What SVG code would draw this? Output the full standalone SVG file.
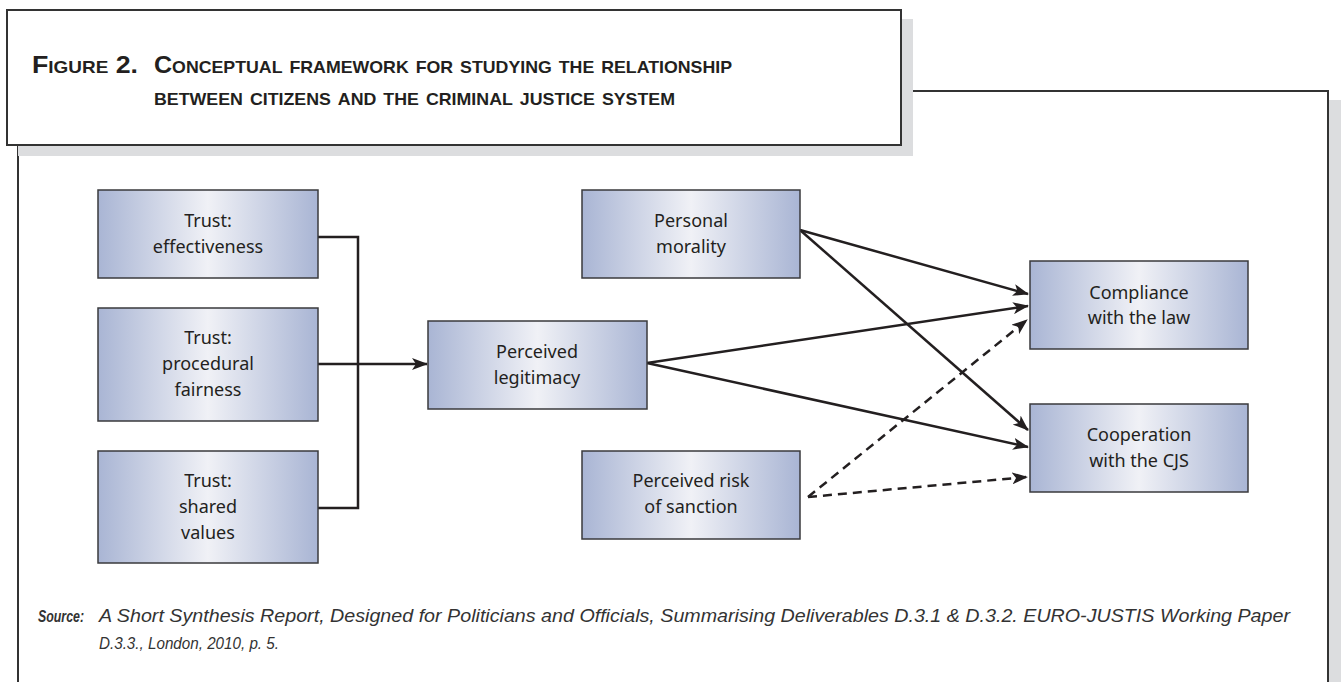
<svg xmlns="http://www.w3.org/2000/svg" width="1341" height="682" viewBox="0 0 1341 682">
<defs>
<linearGradient id="boxGrad" x1="0" y1="0" x2="1" y2="0">
<stop offset="0" stop-color="#a9b5d4"/>
<stop offset="0.5" stop-color="#f0f1f6"/>
<stop offset="1" stop-color="#a9b5d4"/>
</linearGradient>
<marker id="arrow" markerUnits="userSpaceOnUse" markerWidth="16" markerHeight="12" refX="15" refY="6" orient="auto" viewBox="0 0 16 12">
<path d="M0,0 L16,6 L0,12 L4,6 Z" fill="#231f20"/>
</marker>
</defs>
<style>
.box { fill: url(#boxGrad); stroke: #3a3a3c; stroke-width: 1.5; }
.lbl { font-family: "Noto Sans", "Open Sans", sans-serif; font-size: 18px; fill: #231f20; text-anchor: middle; }
.conn { fill: none; stroke: #231f20; stroke-width: 2.5; }
.dash { stroke-dasharray: 9 6; }
.frame { fill: #ffffff; stroke: #333333; stroke-width: 2; }
.shadow { fill: #dcdddf; }
.title { font-family: "Liberation Sans", Arial, sans-serif; font-size: 24px; font-variant: small-caps; font-weight: bold; fill: #231f20; }
.src { font-family: "Liberation Sans", Arial, sans-serif; font-size: 18px; font-style: italic; fill: #333333; }
.srcHead { font-family: "Liberation Sans", Arial, sans-serif; font-size: 16px; font-style: italic; font-weight: bold; fill: #333333; }
.src2 { font-family: "Liberation Sans", Arial, sans-serif; font-size: 17px; font-style: italic; fill: #333333; }
</style>
<rect width="1341" height="682" fill="#ffffff"/>

<g id="frame">
<rect class="shadow" x="1328" y="100" width="13" height="600"/>
<rect class="frame" x="18" y="91" width="1310" height="620"/>
</g>

<g id="title">
<rect class="shadow" x="18" y="19" width="895" height="137"/>
<rect class="frame" x="7" y="10" width="894" height="135"/>
<text class="title" x="32" y="73" textLength="106" lengthAdjust="spacingAndGlyphs">Figure 2.</text>
<text class="title" x="154" y="73" textLength="578" lengthAdjust="spacingAndGlyphs">Conceptual framework for studying the relationship</text>
<text class="title" x="154" y="105" textLength="521" lengthAdjust="spacingAndGlyphs">between citizens and the criminal justice system</text>
</g>

<g id="connectors">
<path class="conn" d="M318,237 H358 V508 H318"/>
<path class="conn" d="M318,364 H427" marker-end="url(#arrow)"/>
<path class="conn" d="M800,230 L1028,294" marker-end="url(#arrow)"/>
<path class="conn" d="M800,230 L1028,430" marker-end="url(#arrow)"/>
<path class="conn" d="M647,363 L1028,306" marker-end="url(#arrow)"/>
<path class="conn" d="M647,363 L1028,447" marker-end="url(#arrow)"/>
<path class="conn dash" d="M808,497 L1027,320" marker-end="url(#arrow)"/>
<path class="conn dash" d="M808,497 L1027,477" marker-end="url(#arrow)"/>
</g>

<g id="trust-effectiveness">
<rect class="box" x="98" y="190" width="220" height="88"/>
<text class="lbl" x="208" y="227">Trust:</text>
<text class="lbl" x="208" y="253">effectiveness</text>
</g>
<g id="trust-procedural">
<rect class="box" x="98" y="308" width="220" height="113"/>
<text class="lbl" x="208" y="344">Trust:</text>
<text class="lbl" x="208" y="370">procedural</text>
<text class="lbl" x="208" y="396">fairness</text>
</g>
<g id="trust-shared">
<rect class="box" x="98" y="451" width="220" height="112"/>
<text class="lbl" x="208" y="487">Trust:</text>
<text class="lbl" x="208" y="513">shared</text>
<text class="lbl" x="208" y="539">values</text>
</g>
<g id="perceived-legitimacy">
<rect class="box" x="428" y="321" width="219" height="88"/>
<text class="lbl" x="537" y="358">Perceived</text>
<text class="lbl" x="537" y="384">legitimacy</text>
</g>
<g id="personal-morality">
<rect class="box" x="582" y="190" width="218" height="88"/>
<text class="lbl" x="691" y="227">Personal</text>
<text class="lbl" x="691" y="253">morality</text>
</g>
<g id="perceived-risk">
<rect class="box" x="582" y="451" width="218" height="88"/>
<text class="lbl" x="691" y="487">Perceived risk</text>
<text class="lbl" x="691" y="513">of sanction</text>
</g>
<g id="compliance">
<rect class="box" x="1030" y="261" width="218" height="88"/>
<text class="lbl" x="1139" y="299">Compliance</text>
<text class="lbl" x="1139" y="324">with the law</text>
</g>
<g id="cooperation">
<rect class="box" x="1030" y="404" width="218" height="88"/>
<text class="lbl" x="1139" y="441">Cooperation</text>
<text class="lbl" x="1139" y="467">with the CJS</text>
</g>

<g id="source">
<text class="srcHead" x="38" y="622" textLength="46" lengthAdjust="spacingAndGlyphs">Source:</text>
<text class="src" x="99" y="622" textLength="1191" lengthAdjust="spacingAndGlyphs">A Short Synthesis Report, Designed for Politicians and Officials, Summarising Deliverables D.3.1 &amp; D.3.2. EURO-JUSTIS Working Paper</text>
<text class="src2" x="99" y="649" textLength="180" lengthAdjust="spacingAndGlyphs">D.3.3., London, 2010, p. 5.</text>
</g>
</svg>
